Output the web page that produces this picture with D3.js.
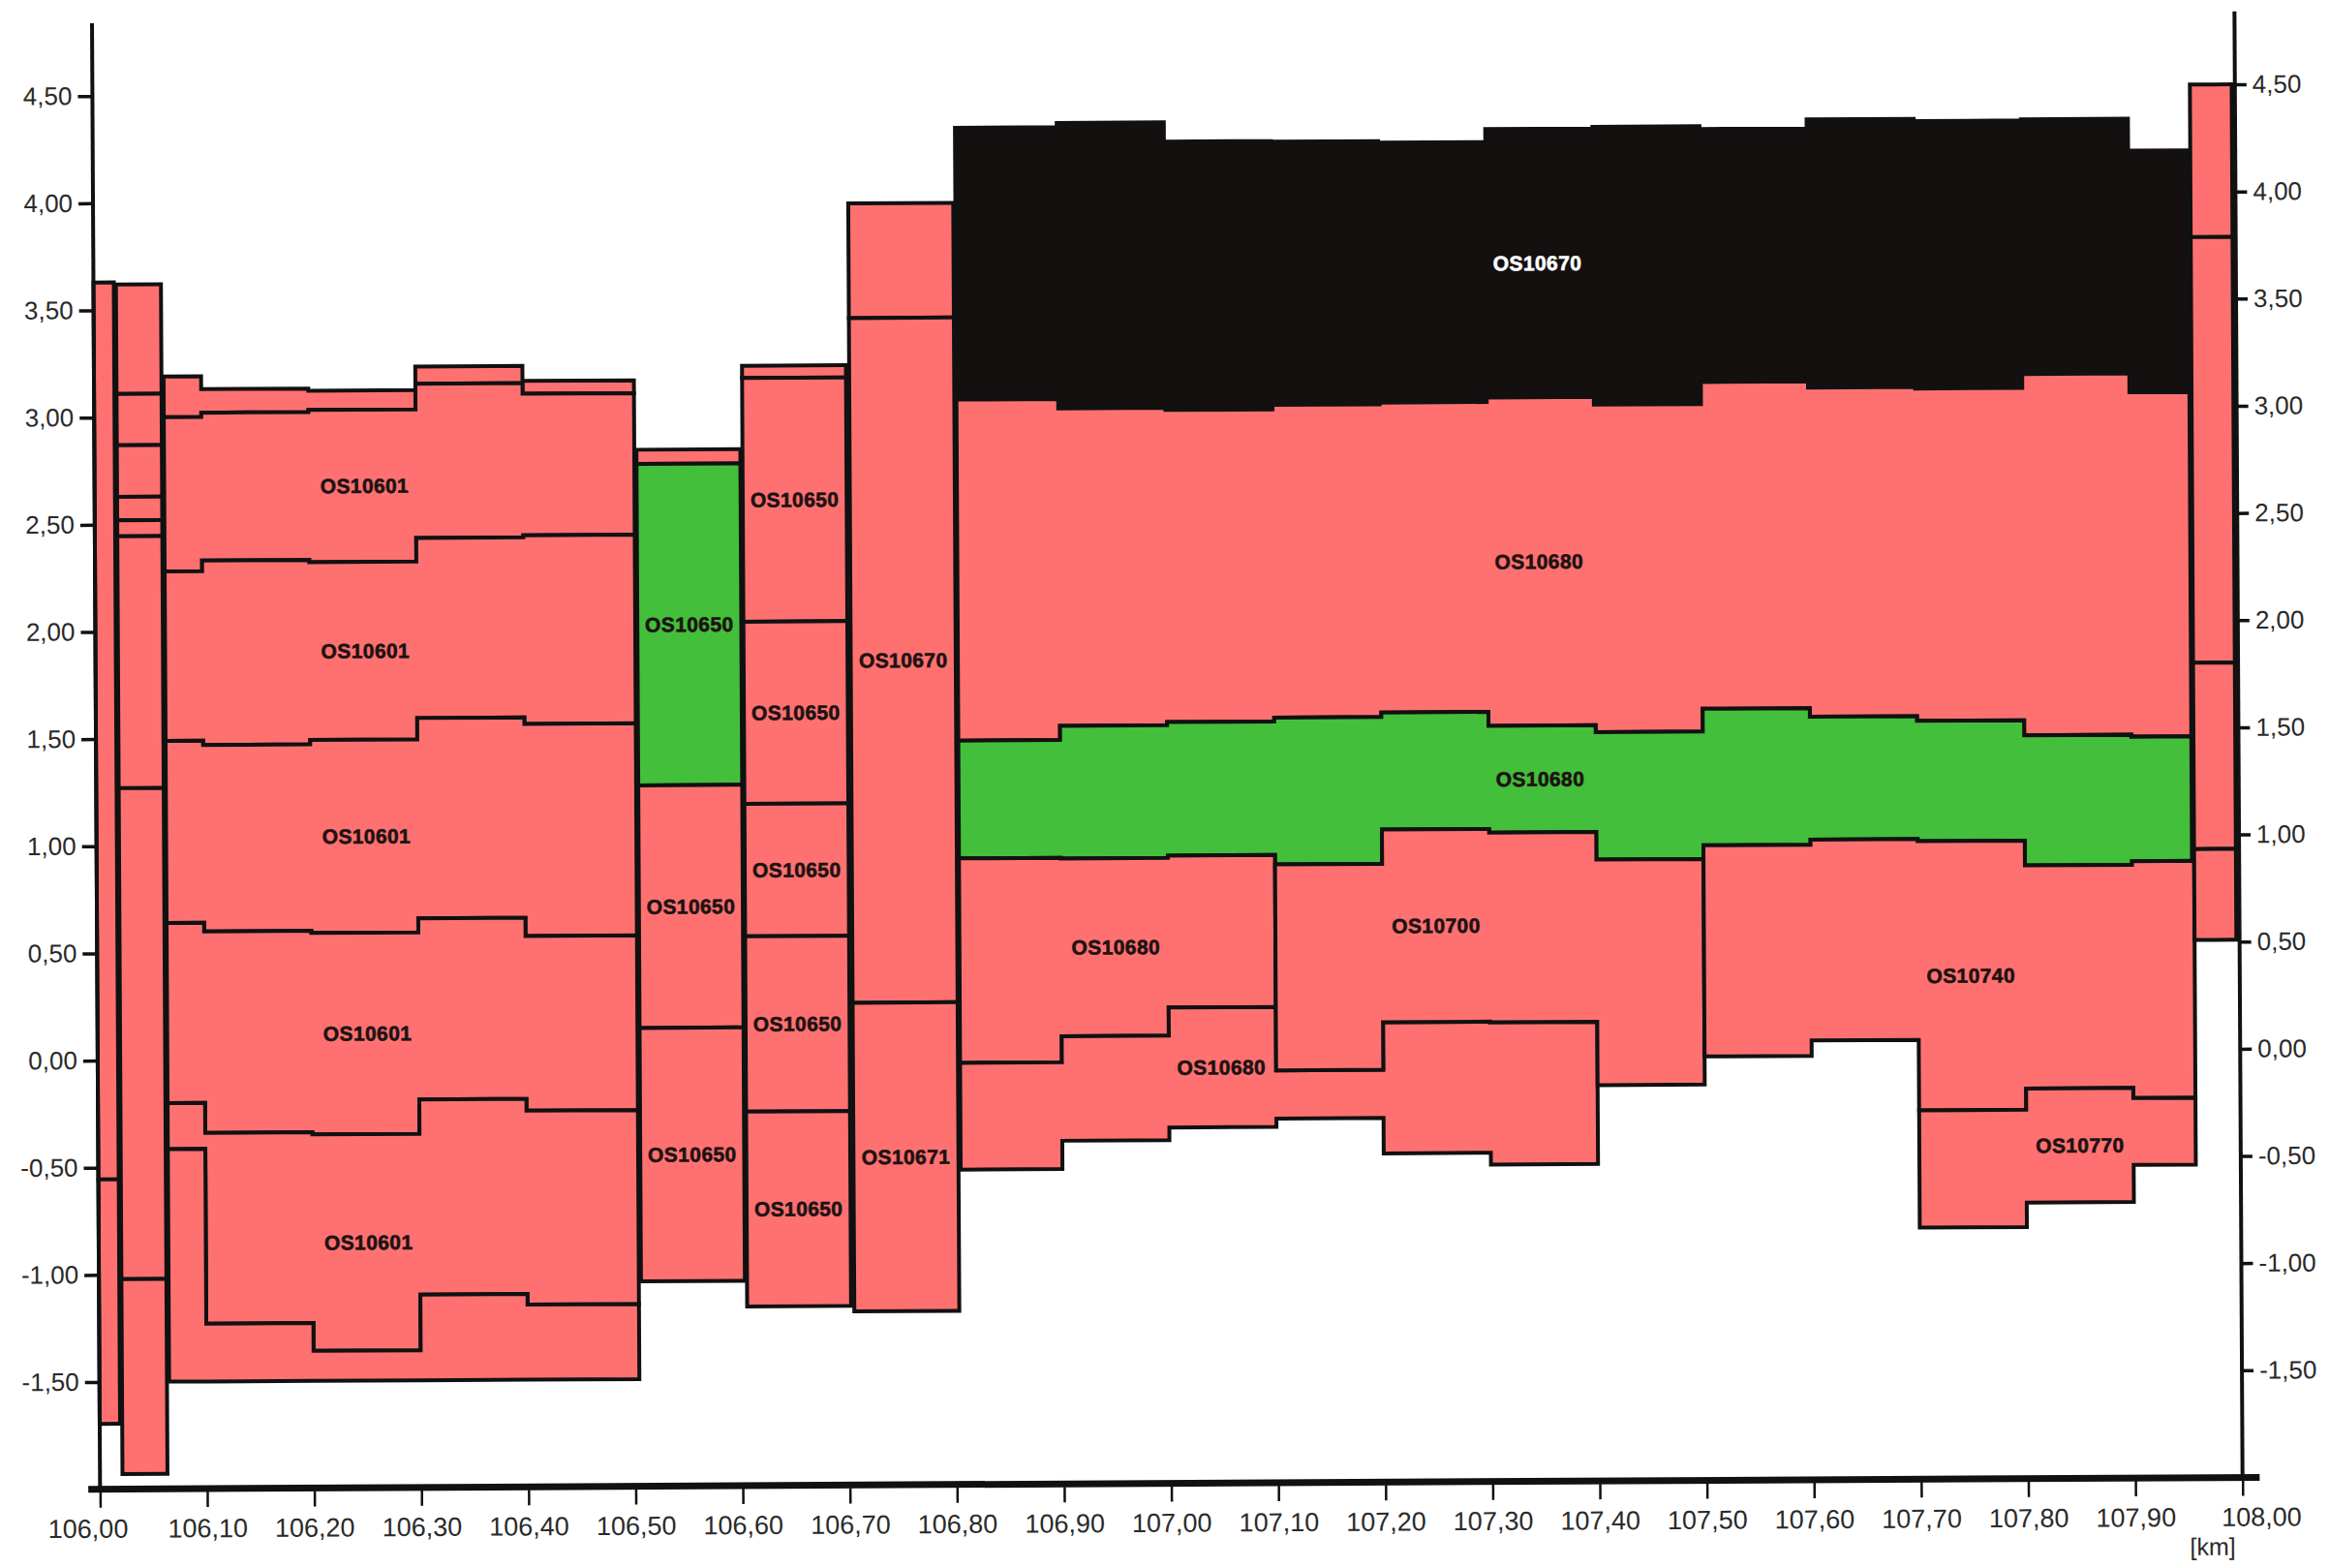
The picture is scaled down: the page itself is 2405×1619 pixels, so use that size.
<!DOCTYPE html>
<html><head><meta charset="utf-8">
<script src="https://cdn.jsdelivr.net/npm/d3@7"></script>
<style>html,body{margin:0;padding:0;background:#fff;} svg{display:block;}</style>
</head><body>
<svg id="chart" width="2405" height="1619"></svg>
<script>
// ================= DATA =================
const xTicks = d3.range(0, 21).map(i => +(106 + i * 0.1).toFixed(2));
const yTicks = [4.5, 4.0, 3.5, 3.0, 2.5, 2.0, 1.5, 1.0, 0.5, 0.0, -0.5, -1.0, -1.5];
const axisTopValue = 4.84, baseValue = -2.0;

// single columns: [start km, end km] and layer boundaries top -> bottom
const col1X = [106.000, 106.019];
const col1Lines = [3.63, -0.555, -1.695];
const col2X = [106.021, 106.063];
const col2Lines = [3.62, 3.11, 2.87, 2.63, 2.52, 2.445, 1.27, -1.02, -1.93];
const col3X = [106.506, 106.603];
const col3Lines = [2.836, 2.770, 1.27, 0.138, -1.044];
const col3Fills = ["pink", "green", "pink", "pink"];
const col3Labels = [null, "OS10650", "OS10650", "OS10650"];
const col4X = [106.605, 106.702];
const col4Lines = [3.225, 3.168, 2.031, 1.181, 0.563, -0.255, -1.164];
const col4Labels = [null, "OS10650", "OS10650", "OS10650", "OS10650", "OS10650"];
const col5X = [106.705, 106.803];
const col5Lines = [3.98, 3.445, 0.25, -1.19];
const col5Labels = [null, "OS10670", "OS10671"];
const col6X = [107.958, 107.997];
const col6Lines = [4.50, 3.788, 1.802, 0.933, 0.509];

// OS10601 block
const os10601X = [106.065, 106.10, 106.20, 106.30, 106.40, 106.504];
const os10601L1 = [3.19, 3.13, 3.12, 3.23, 3.16];
const os10601L2 = [3.00, 3.02, 3.03, 3.15, 3.10];
const os10601L3 = [2.28, 2.33, 2.32, 2.43, 2.44];
const os10601L4 = [1.49, 1.47, 1.49, 1.59, 1.56];
const os10601L5 = [0.64, 0.60, 0.59, 0.655, 0.57];
const os10601L6 = [-0.20, -0.34, -0.35, -0.19, -0.245];
const os10601L7 = [-0.415, -1.23, -1.36, -1.10, -1.15];
const os10601L8 = [-1.50, -1.50, -1.50, -1.50, -1.50];
const os10601Labels = [null, "OS10601", "OS10601", "OS10601", "OS10601", "OS10601", null];
const os10601LabelKm = 106.252;

// big block 106.805 - 107.956
const bigX = [106.805, 106.90, 107.00, 107.10, 107.20, 107.30, 107.40, 107.50, 107.60, 107.70, 107.80, 107.90, 107.956];
const bigL1 = [4.33, 4.35, 4.26, 4.257, 4.25, 4.31, 4.318, 4.305, 4.347, 4.337, 4.342, 4.193];
const bigL2 = [3.062, 3.018, 3.008, 3.029, 3.037, 3.058, 3.022, 3.125, 3.096, 3.089, 3.154, 3.066];
const bigL3 = [1.471, 1.537, 1.552, 1.570, 1.591, 1.526, 1.494, 1.600, 1.560, 1.538, 1.468, 1.459];
const bigL4 = [0.921, 0.918, 0.929, 0.885, 1.045, 1.028, 0.899, 0.963, 0.987, 0.977, 0.861, 0.878];
const bigFills = ["black", "pink", "green"];
const bigLabels = ["OS10670", "OS10680", "OS10680"];
const bigLabelKm = 107.348;

// lower blocks
const os10680X = [106.805, 106.90, 107.00, 107.10];
const os10680Mid = [-0.033, 0.089, 0.220];
const lowestX = [106.805, 106.90, 107.00, 107.10, 107.20, 107.30, 107.40];
const lowestBottom = [-0.531, -0.399, -0.340, -0.301, -0.466, -0.521];
const os10700X = [107.10, 107.20, 107.30, 107.40, 107.50];
const os10700Bottom = [-0.076, 0.146, 0.143, -0.153];
const os10740X = [107.50, 107.60, 107.70, 107.80, 107.90, 107.958];
const os10740Bottom = [-0.022, 0.050, -0.279, -0.180, -0.227];
const os10770X = [107.70, 107.80, 107.90, 107.958];
const os10770Bottom = [-0.826, -0.712, -0.539];

// ================= BUILD STACKS =================
const pinkC = "#ff7171", greenC = "#43bf3b", blackC = "#141010";
const colorOf = { pink: pinkC, green: greenC, black: blackC };

function column(xr, lines, fills, labels) {
  return { x: xr, lines: lines.map(v => [v]),
    fills: fills || lines.slice(1).map(() => "pink"),
    labels: labels || lines.slice(1).map(() => null),
    labelKm: (xr[0] + xr[1]) / 2 };
}
const stacks = [
  column(col1X, col1Lines),
  column(col2X, col2Lines),
  { x: os10601X, lines: [os10601L1, os10601L2, os10601L3, os10601L4, os10601L5, os10601L6, os10601L7, os10601L8],
    fills: os10601Labels.map(() => "pink"), labels: os10601Labels, labelKm: os10601LabelKm },
  column(col3X, col3Lines, col3Fills, col3Labels),
  column(col4X, col4Lines, null, col4Labels),
  column(col5X, col5Lines, null, col5Labels),
  { x: bigX, lines: [bigL1, bigL2, bigL3, bigL4], fills: bigFills, labels: bigLabels, labelKm: bigLabelKm },
  { x: os10680X, lines: [bigL4.slice(0, 3), os10680Mid], fills: ["pink"], labels: ["OS10680"], labelKm: 106.951 },
  { x: lowestX, lines: [os10680Mid.concat(os10700Bottom.slice(0, 3)), lowestBottom], fills: ["pink"], labels: ["OS10680"], labelKm: 107.049 },
  { x: os10700X, lines: [bigL4.slice(3, 7), os10700Bottom], fills: ["pink"], labels: ["OS10700"], labelKm: 107.25 },
  { x: os10740X, lines: [bigL4.slice(7), os10740Bottom], fills: ["pink"], labels: ["OS10740"], labelKm: 107.749 },
  { x: os10770X, lines: [os10740Bottom.slice(2), os10770Bottom], fills: ["pink"], labels: ["OS10770"], labelKm: 107.85 },
  column(col6X, col6Lines)
];

// ================= DRAW =================
const x = d3.scaleLinear().domain([106, 108]).range([100.9, 2313.3]);
const y = d3.scaleLinear().domain([-1.5, 4.5]).range([1427, 99.2]);
const fmt = v => v.toFixed(2).replace(".", ",");
const svg = d3.select("#chart");
const g = svg.append("g").attr("transform", "rotate(-0.315,101,1095)");

const lineGen = d3.line().x(d => x(d[0])).y(d => y(d[1])).curve(d3.curveLinearClosed);

function layerPoints(X, U, L) {
  const pts = [];
  for (let i = 0; i < U.length; i++) { pts.push([X[i], U[i]]); pts.push([X[i + 1], U[i]]); }
  for (let i = L.length - 1; i >= 0; i--) { pts.push([X[i + 1], L[i]]); pts.push([X[i], L[i]]); }
  return pts;
}

const layers = [];
stacks.forEach(s => {
  for (let i = 0; i < s.lines.length - 1; i++) {
    layers.push({ X: s.x, U: s.lines[i], L: s.lines[i + 1], fill: s.fills[i], label: s.labels[i], labelKm: s.labelKm });
  }
});

const marks = g.append("g");
marks.selectAll("path.layer").data(layers).join("path")
  .attr("class", "layer")
  .attr("d", d => lineGen(layerPoints(d.X, d.U, d.L)))
  .attr("fill", d => colorOf[d.fill])
  .attr("stroke", "#111")
  .attr("stroke-width", 4)
  .attr("stroke-linejoin", "miter");

function valueAt(X, arr, km) {
  let i = d3.bisectRight(X, km) - 1;
  i = Math.max(0, Math.min(arr.length - 1, i));
  return arr[i];
}
marks.selectAll("text.lbl").data(layers.filter(d => d.label)).join("text")
  .attr("class", "lbl")
  .attr("x", d => x(d.labelKm))
  .attr("y", d => y((valueAt(d.X, d.U, d.labelKm) + valueAt(d.X, d.L, d.labelKm)) / 2))
  .attr("text-anchor", "middle")
  .attr("dominant-baseline", "central")
  .attr("font-family", "'Liberation Sans', Arial, sans-serif")
  .attr("font-weight", "bold")
  .attr("font-size", 21)
  .attr("letter-spacing", 0.4)
  .attr("fill", d => d.fill === "black" ? "#ffffff" : "#1e1212")
  .attr("stroke", d => d.fill === "black" ? "#ffffff" : "#1e1212")
  .attr("stroke-width", 0.6)
  .text(d => d.label);

// axes
const axisFont = "'Liberation Sans', Arial, sans-serif";
function styleAxis(sel, size) {
  sel.select(".domain").remove();
  sel.selectAll(".tick line").attr("stroke", "#111").attr("stroke-width", 3.5);
  sel.selectAll(".tick text").attr("font-family", axisFont).attr("font-size", size).attr("fill", "#2a2a2a");
}
const leftAxis = g.append("g").attr("transform", `translate(${x(106)},0)`)
  .call(d3.axisLeft(y).tickValues(yTicks).tickFormat(fmt).tickSize(15).tickPadding(6));
styleAxis(leftAxis, 26);
const rightAxis = g.append("g").attr("transform", `translate(${x(108)},0)`)
  .call(d3.axisRight(y).tickValues(yTicks).tickFormat(fmt).tickSize(12).tickPadding(6));
styleAxis(rightAxis, 26);

g.append("line").attr("x1", x(106)).attr("x2", x(106)).attr("y1", y(axisTopValue)).attr("y2", y(baseValue))
  .attr("stroke", "#111").attr("stroke-width", 4);
g.append("line").attr("x1", x(108)).attr("x2", x(108)).attr("y1", y(axisTopValue)).attr("y2", y(baseValue))
  .attr("stroke", "#111").attr("stroke-width", 4);

// base line (x axis)
g.append("line").attr("x1", x(105.989)).attr("x2", x(108.016)).attr("y1", y(baseValue)).attr("y2", y(baseValue))
  .attr("stroke", "#111").attr("stroke-width", 7);
const bottomAxis = g.append("g").attr("transform", `translate(0,${y(baseValue) + 3})`)
  .call(d3.axisBottom(x).tickValues(xTicks).tickFormat(fmt).tickSize(16).tickPadding(12));
styleAxis(bottomAxis, 27);
bottomAxis.selectAll(".tick line").attr("stroke-width", 2.5);
const tickTexts = bottomAxis.selectAll(".tick text");
tickTexts.filter((d, i) => i === 0).attr("dx", -13);
tickTexts.filter((d, i, n) => i === n.length - 1).attr("dx", 19);

g.append("text").attr("x", x(107.972)).attr("y", y(baseValue) + 71)
  .attr("text-anchor", "middle").attr("dominant-baseline", "central")
  .attr("font-family", axisFont).attr("font-size", 25).attr("fill", "#2a2a2a")
  .text("[km]");
</script>
</body></html>
